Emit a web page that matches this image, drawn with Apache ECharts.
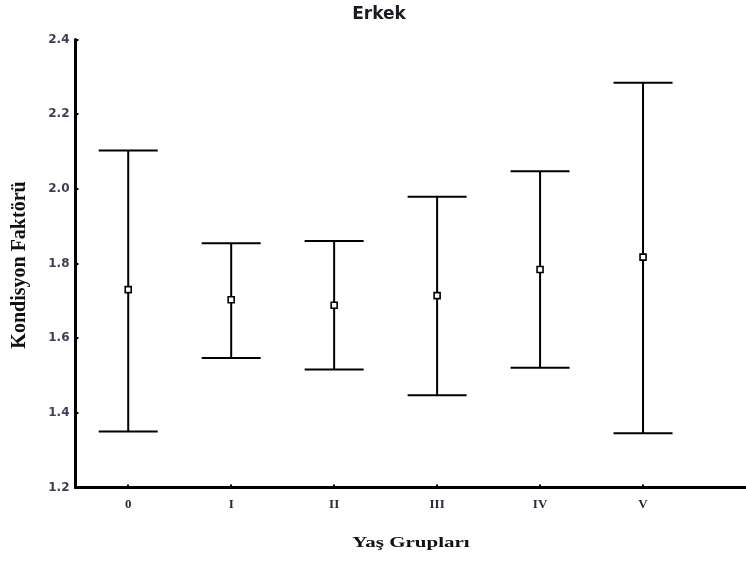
<!DOCTYPE html>
<html>
<head>
<meta charset="utf-8">
<script src="https://cdn.jsdelivr.net/npm/echarts@6/dist/echarts.min.js"></script>
<style>
  html, body { margin: 0; padding: 0; background: #fff; }
  #chart { width: 746px; height: 563px; }
</style>
</head>
<body>
<div id="chart"></div>
<script>
// Age groups and condition-factor statistics (mean with lower/upper bounds)
const categories = ['0', 'I', 'II', 'III', 'IV', 'V'];
const means = [1.730, 1.703, 1.688, 1.714, 1.784, 1.817];
const lows = [1.350, 1.547, 1.516, 1.447, 1.521, 1.345];
const highs = [2.103, 1.854, 1.860, 1.979, 2.047, 2.284];
const yTicks = [1.2, 1.4, 1.6, 1.8, 2.0, 2.2, 2.4];

const positions = categories.map((c, i) => i);
const barData = positions.map((i) => [i, lows[i], highs[i]]);
const meanData = positions.map((i) => [i, means[i]]);

const chart = echarts.init(document.getElementById('chart'), null, { renderer: 'canvas' });

const option = {
  backgroundColor: '#ffffff',
  animation: false,
  grid: { left: 75.5, top: 39.5, width: 674.6, height: 448 },
  xAxis: {
    type: 'value',
    min: -0.512,
    max: 6,
    axisLine: { show: true, onZero: false, lineStyle: { color: '#000', width: 3 } },
    axisTick: { show: true, inside: true, length: 3, customValues: positions, lineStyle: { color: '#000', width: 2 } },
    axisLabel: {
      customValues: positions,
      formatter: (v) => categories[Math.round(v)],
      margin: 11,
      color: '#2a2a3a',
      fontFamily: 'Liberation Serif',
      fontWeight: 'bold',
      fontSize: 13
    },
    splitLine: { show: false }
  },
  yAxis: {
    type: 'value',
    min: yTicks[0],
    max: yTicks[yTicks.length - 1],
    interval: 0.2,
    axisLine: { show: true, onZero: false, lineStyle: { color: '#000', width: 3 } },
    axisTick: { show: true, inside: true, length: 3, lineStyle: { color: '#000', width: 2 } },
    axisLabel: {
      formatter: (v) => v.toFixed(1),
      margin: 6,
      color: '#3a3f55',
      fontFamily: 'DejaVu Sans',
      fontWeight: 'bold',
      fontSize: 12
    },
    splitLine: { show: false }
  },
  graphic: [
    {
      type: 'text',
      x: 379, y: 15,
      style: {
        text: 'Erkek', align: 'center', verticalAlign: 'middle',
        font: 'bold 17px "DejaVu Sans"', fill: '#1a1a22'
      }
    },
    {
      type: 'text',
      x: 20, y: 265, rotation: Math.PI / 2,
      style: {
        text: 'Kondisyon Faktörü', align: 'center', verticalAlign: 'middle',
        font: 'bold 20px "Liberation Serif"', fill: '#111'
      }
    },
    {
      type: 'text',
      x: 411, y: 543, scaleX: 1.4,
      style: {
        text: 'Yaş Grupları', align: 'center', verticalAlign: 'middle',
        font: 'bold 15px "Liberation Serif"', fill: '#111'
      }
    }
  ],
  series: [
    {
      type: 'custom',
      data: barData,
      renderItem: (params, api) => {
        const x = api.value(0);
        const top = api.coord([x, api.value(2)]);
        const bot = api.coord([x, api.value(1)]);
        const half = 29.5;
        const style = { stroke: '#000', lineWidth: 2 };
        return {
          type: 'group',
          children: [
            { type: 'line', shape: { x1: top[0], y1: top[1], x2: bot[0], y2: bot[1] }, style },
            { type: 'line', shape: { x1: top[0] - half, y1: top[1], x2: top[0] + half, y2: top[1] }, style },
            { type: 'line', shape: { x1: bot[0] - half, y1: bot[1], x2: bot[0] + half, y2: bot[1] }, style }
          ]
        };
      },
      z: 2
    },
    {
      type: 'scatter',
      data: meanData,
      symbol: 'rect',
      symbolSize: 6,
      itemStyle: { color: '#fff', borderColor: '#000', borderWidth: 1.6, opacity: 1 },
      z: 3
    }
  ]
};

chart.setOption(option);
</script>
</body>
</html>
